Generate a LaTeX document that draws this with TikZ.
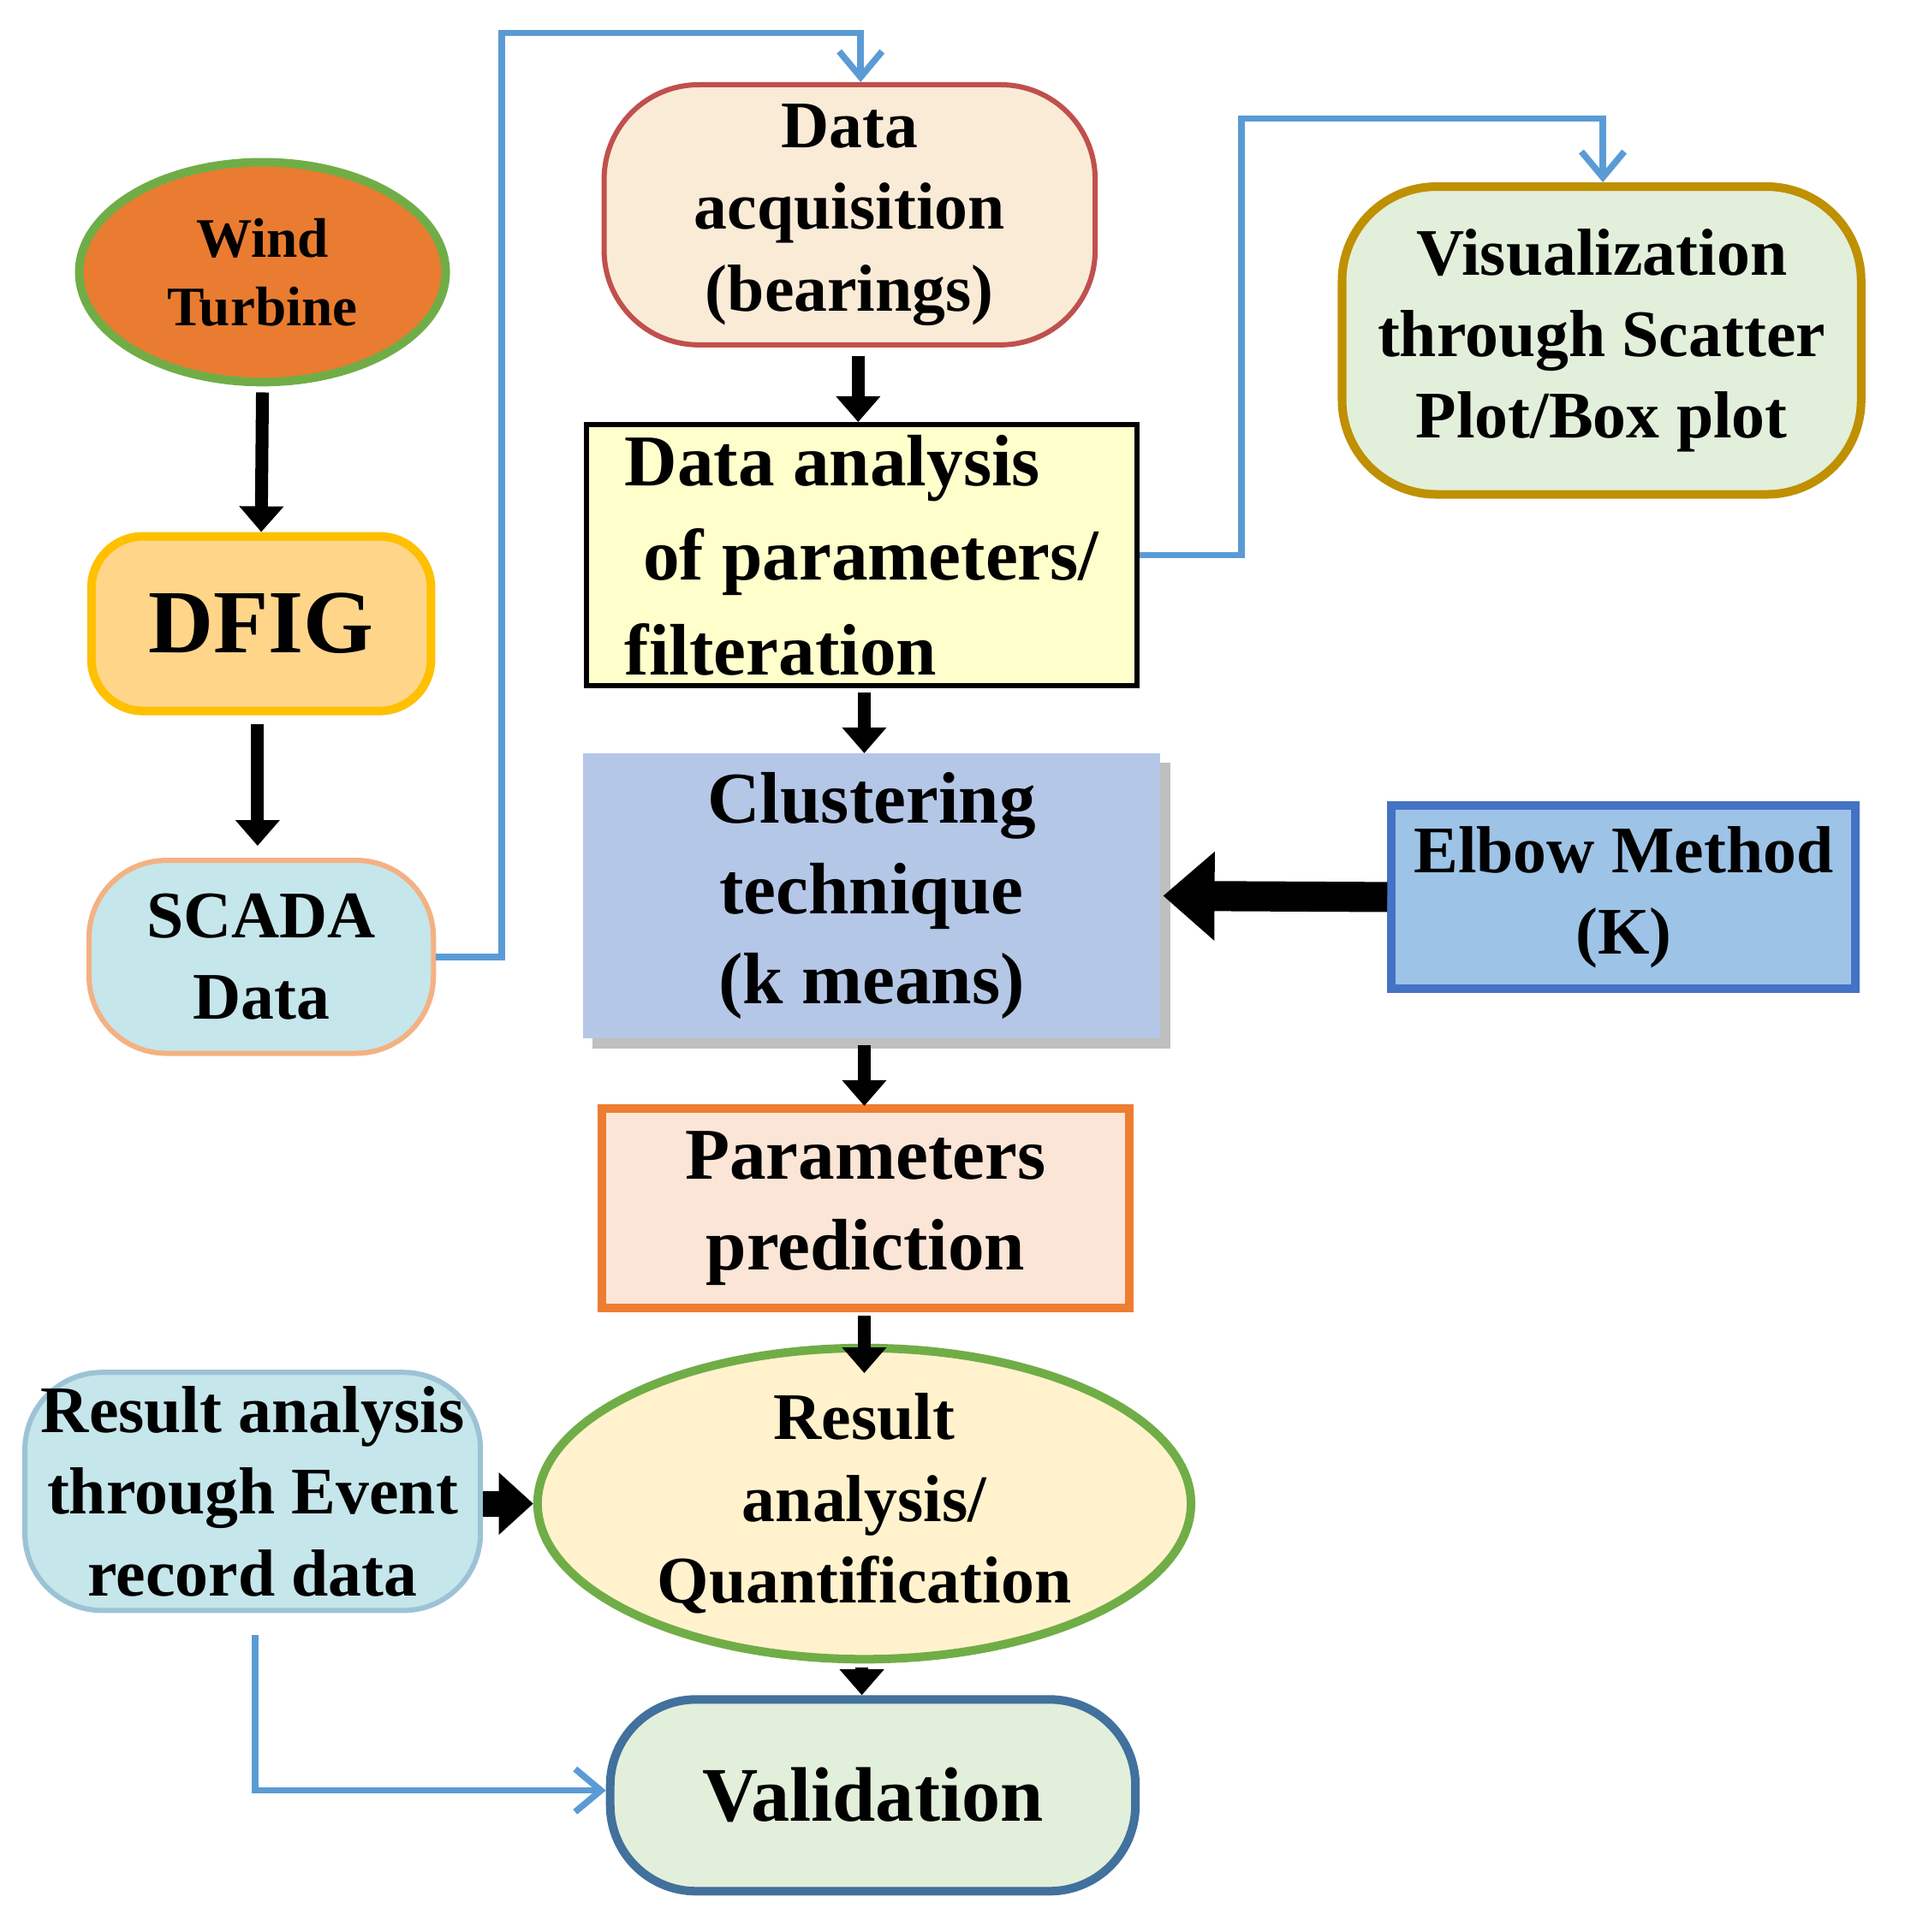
\documentclass[tikz,border=0pt]{standalone}
\usepackage{fontspec}
\setmainfont{Liberation Serif}
\usetikzlibrary{shapes.geometric,arrows.meta,shadows}
\definecolor{wt}{HTML}{E97C30}\definecolor{grn}{HTML}{70AD47}
\definecolor{dfig}{HTML}{FFD58A}\definecolor{dfigb}{HTML}{FFC000}
\definecolor{scada}{HTML}{C5E6EA}\definecolor{salm}{HTML}{F4B183}
\definecolor{acq}{HTML}{FAEBD7}\definecolor{acqb}{HTML}{C0504D}
\definecolor{ana}{HTML}{FFFFCC}\definecolor{clu}{HTML}{B4C7E7}
\definecolor{elb}{HTML}{9DC3E6}\definecolor{elbb}{HTML}{4472C4}
\definecolor{vis}{HTML}{E2EFDA}\definecolor{visb}{HTML}{BF9000}
\definecolor{par}{HTML}{FBE5D6}\definecolor{parb}{HTML}{ED7D31}
\definecolor{res}{HTML}{FFF2CC}\definecolor{evb}{HTML}{9CC3D5}
\definecolor{valb}{HTML}{41719C}\definecolor{blu}{HTML}{5B9BD5}
\tikzset{
 box/.style={draw,line width=1.2pt,align=center,font=\bfseries\fontsize{15.5}{19}\selectfont,inner sep=2pt},
 blk/.style={line width=3pt,-{Triangle[length=6pt,width=10pt]}},
 bl/.style={draw=blu,line width=1.5pt,-{Straight Barb[length=6pt,width=10pt]}}
}
\begin{document}
\begin{tikzpicture}[x=0.01cm,y=-0.01cm]
\useasboundingbox (0,0) rectangle (1560,1583);
\node[ellipse,box,fill=wt,draw=grn,line width=2pt,font=\bfseries\fontsize{13}{16}\selectfont,minimum width=3cm,minimum height=1.8cm] (wt) at (215,223) {Wind\\Turbine};
\node[box,rounded corners=12pt,fill=dfig,draw=dfigb,line width=2pt,minimum width=2.78cm,minimum height=1.43cm,font=\bfseries\fontsize{21}{25}\selectfont] (dfig) at (214,511) {DFIG};
\node[box,rounded corners=18pt,fill=scada,draw=salm,minimum width=2.82cm,minimum height=1.58cm] (scada) at (214,784) {SCADA\\Data};
\node[box,rounded corners=22pt,fill=acq,draw=acqb,minimum width=4.02cm,minimum height=2.13cm] (acq) at (696,176) {Data\\acquisition\\(bearings)};
\node[box,fill=ana,draw=black,minimum width=4.51cm,minimum height=2.14cm,align=left,font=\bfseries\fontsize{17}{22}\selectfont] (ana) at (706,455) {Data analysis\\\ of parameters/\\filteration};
\node[box,draw=none,fill=clu,drop shadow,minimum width=4.73cm,minimum height=2.34cm,font=\bfseries\fontsize{17}{21}\selectfont] (clu) at (714,734) {Clustering\\technique\\(k means)};
\node[box,fill=elb,draw=elbb,line width=2pt,minimum width=3.8cm,minimum height=1.5cm] (elb) at (1330,735) {Elbow Method\\(K)};
\node[box,rounded corners=22pt,fill=vis,draw=visb,line width=2pt,minimum width=4.25cm,minimum height=2.52cm] (vis) at (1312,279) {Visualization\\through Scatter\\Plot/Box plot};
\node[box,fill=par,draw=parb,line width=2pt,minimum width=4.32cm,minimum height=1.63cm,font=\bfseries\fontsize{17}{21}\selectfont] (par) at (709,990) {Parameters\\prediction};
\node[ellipse,box,fill=res,draw=grn,line width=2pt,minimum width=5.35cm,minimum height=2.1cm,inner sep=0pt] (res) at (708,1232) {Result\\analysis/\\Quantification};
\node[box,rounded corners=18pt,fill=scada,draw=evb,minimum width=3.73cm,minimum height=1.95cm] (ev) at (207,1222) {Result analysis\\through Event\\record data};
\node[box,rounded corners=20pt,fill=vis,draw=valb,line width=2pt,minimum width=4.3cm,minimum height=1.57cm,font=\bfseries\fontsize{18}{22}\selectfont] (val) at (715,1471) {Validation};
\draw[blk] (wt.south) ++(0,5) -- (dfig.north);
\draw[blk] (dfig.south) ++(-3,7) -- ++(0,100);
\draw[blk] (acq.south) ++(7,7) -- (ana.north -| 703,0);
\draw[blk] (ana.south) ++(2,3) -- ++(0,50);
\draw[blk] (clu.south) ++(-6,3) -- ++(0,50);
\draw[blk] (par.south) ++(-1,3) -- ++(0,47);
\draw[blk] (res.south) ++(-2,3) -- (val.north -| 706,0);
\draw[line width=7pt,-{Triangle[length=12pt,width=20pt]}] (elb.west) -- (clu.east);
\draw[line width=6pt,-{Triangle[length=8pt,width=14pt]}] (ev.east |- res.west) -- (res.west);
\draw[bl] (scada.east) -- (411,784) -- (411,27) -- (705,27) -- (acq.north -| 705,0);
\draw[bl] (ana.east) -- (ana.east -| 1017,0) -- (1017,97) -- (1313,97) -- (vis.north -| 1313,0);
\draw[bl] (ev.south) ++(2,18) -- (209,1467) -- (val.west |- 0,1467);
\end{tikzpicture}
\end{document}
